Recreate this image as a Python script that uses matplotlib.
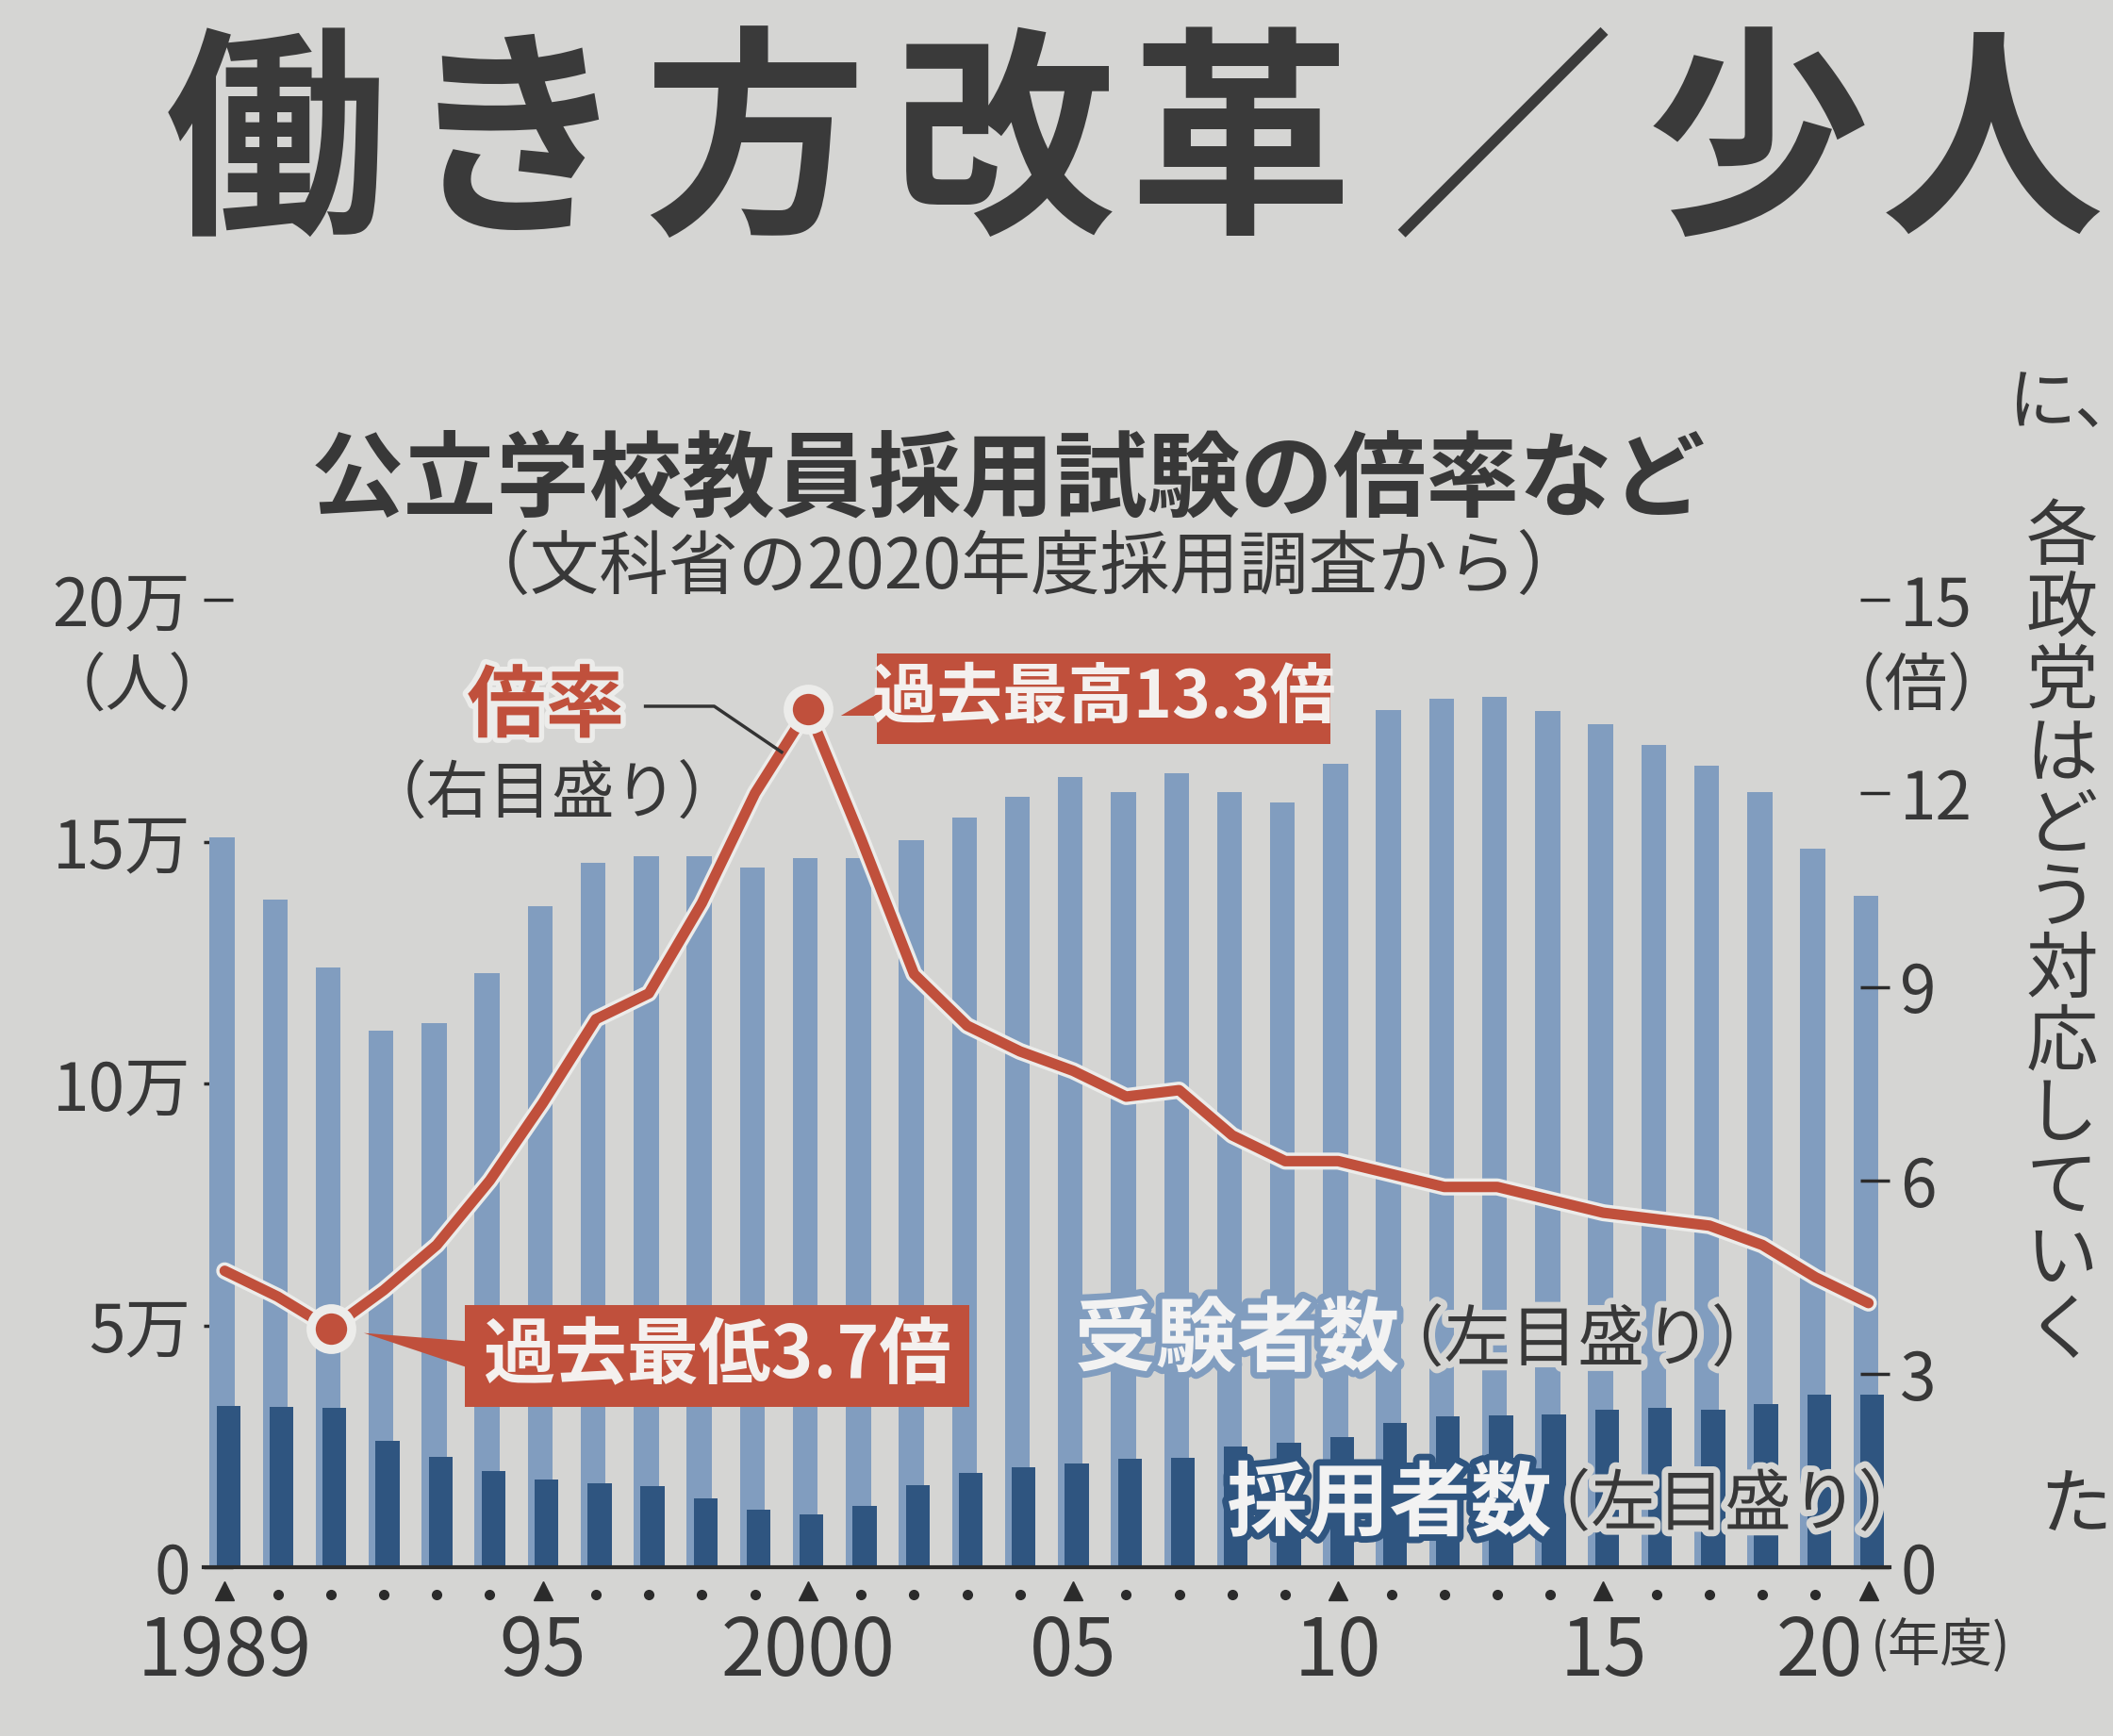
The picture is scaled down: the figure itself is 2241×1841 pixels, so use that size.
import numpy as np
import matplotlib
matplotlib.use("Agg")
import matplotlib.pyplot as plt
import matplotlib.patheffects as pe
from matplotlib.patches import Rectangle, Polygon
from matplotlib.lines import Line2D
from matplotlib import font_manager

plt.rcParams['font.family'] = ['Noto Sans CJK JP', 'DejaVu Sans']

# data (文科省 2020年度採用調査)
years = list(range(1989, 2021))
applicants = [151000, 138000, 124000, 111000, 112500, 122800, 136700, 145600,
              147000, 147000, 144700, 146700, 146700, 150300, 155000, 159200,
              163300, 160300, 164200, 160300, 158100, 166100, 177200, 179500,
              180000, 177000, 174200, 170000, 165800, 160300, 148600, 138900]
hires = [33500, 33300, 33000, 26200, 22800, 19900, 18300, 17400,
         16800, 14300, 11900, 11000, 12800, 17000, 19500, 20800,
         21500, 22400, 22700, 25100, 25900, 27000, 29800, 31300,
         31400, 31600, 32700, 33000, 32700, 33800, 35800, 35800]
ratio = [4.6, 4.2, 3.7, 4.3, 5.0, 6.0, 7.2, 8.5, 8.9, 10.3, 12.0, 13.3,
         11.3, 9.2, 8.4, 8.0, 7.7, 7.3, 7.4, 6.7, 6.3, 6.3, 6.1, 5.9,
         5.9, 5.7, 5.5, 5.4, 5.3, 5.0, 4.5, 4.1]

major_years = [1989, 1995, 2000, 2005, 2010, 2015, 2020]
year_labels = ['1989', '95', '2000', '05', '10', '15', '20']
left_ticks = [0, 50000, 100000, 150000, 200000]
left_labels = ['0', '5万', '10万', '15万', '20万']
right_ticks = [0, 3, 6, 9, 12, 15]
right_labels = ['0', '3', '6', '9', '12', '15']

PAPER = '#d5d5d3'
LIGHT = '#819dbf'
DARK = '#2f5580'
RED = '#c0503c'
TEXT = '#383838'
HALO = '#ececea'

names = {f.name for f in font_manager.fontManager.ttflist}
NARROW = 'Liberation Sans Narrow' if 'Liberation Sans Narrow' in names else 'Noto Sans CJK JP'


def fxy(x, y):
    # position measured on a 1568x1288 view of the page -> figure fraction
    return x / 1568, 1 - y / 1288


fig = plt.figure(figsize=(22.41, 18.41), dpi=100, facecolor=PAPER)

# headline of the article
for ch, x in zip('働き方改革／少人', [205, 383, 560, 745, 920, 1115, 1305, 1478]):
    fig.text(*fxy(x, 112), ch, fontsize=170, fontweight='bold', color='#3a3a3a',
             ha='center', va='center')

# vertical body text on the right
fig.text(*fxy(1515, 300), 'に', fontsize=52, color=TEXT, ha='center', va='center')
fig.text(*fxy(1540, 300), '､', fontsize=52, color=TEXT, ha='left', va='center')
for i, ch in enumerate('各政党はどう対応していく'):
    fig.text(*fxy(1530, 400 + i * 53.5), ch, fontsize=55, color=TEXT,
             ha='center', va='center')
fig.text(*fxy(1540, 1118), 'た', fontsize=55, color=TEXT, ha='center', va='center')

# chart title
fig.text(*fxy(748, 357), '公立学校教員採用試験の倍率など', fontsize=71,
         fontweight='bold', color=TEXT, ha='center', va='center')
fig.text(*fxy(760, 422), '（文科省の2020年度採用調査から）', fontsize=53,
         color=TEXT, ha='center', va='center')

ax = fig.add_axes([0.0963, 0.097, 0.798, 0.5575])
ax.set_facecolor('none')
ax2 = ax.twinx()

x = np.array(years)
ax.bar(x - 0.05, applicants, width=0.47, color=LIGHT, zorder=2)
ax.bar(x + 0.07, hires, width=0.45, color=DARK, zorder=3)

ax.set_xlim(1988.6, 2020.4)
ax.set_ylim(0, 200000)
ax2.set_ylim(0, 15)

for s in ['left', 'right', 'top']:
    ax.spines[s].set_visible(False)
    ax2.spines[s].set_visible(False)
ax2.spines['bottom'].set_visible(False)
ax.spines['bottom'].set_color('#2b2b2b')
ax.spines['bottom'].set_linewidth(3)
ax.spines['bottom'].set_zorder(4)

ax.set_yticks(left_ticks, left_labels)
ax.tick_params(axis='y', direction='in', length=22, width=2.5, color='#2b2b2b',
               labelsize=50, labelcolor=TEXT, pad=10)
ax2.set_yticks(right_ticks, right_labels)
ax2.tick_params(axis='y', direction='in', length=22, width=2.5, color='#2b2b2b',
                labelsize=50, labelcolor=TEXT, pad=8)
ax.set_xticks([])

# year markers below the baseline
xt = ax.get_xaxis_transform()
minor_years = [y for y in years if y not in major_years]
ax.plot(major_years, [-0.024] * len(major_years), '^', ms=15, color='#2b2b2b',
        transform=xt, clip_on=False)
ax.plot(minor_years, [-0.028] * len(minor_years), 'o', ms=7, color='#2b2b2b',
        transform=xt, clip_on=False)
for yr, lab in zip(major_years, year_labels):
    if lab == '20':
        ax.text(yr - 0.1, -0.088, lab, transform=xt, ha='right', va='center',
                fontsize=60, family=NARROW, color=TEXT)
    else:
        ax.text(yr, -0.088, lab, transform=xt, ha='center', va='center',
                fontsize=60, family=NARROW, color=TEXT)
fig.text(*fxy(1388, 1222), '(年度)', fontsize=40, color=TEXT, ha='left', va='center')

# unit labels
fig.text(*fxy(102, 510), '（人）', fontsize=48, color=TEXT, ha='center', va='center')
fig.text(*fxy(1422, 510), '（倍）', fontsize=48, color=TEXT, ha='center', va='center')

# ratio line
ax2.plot(years, ratio, color=RED, lw=8, solid_joinstyle='round',
         solid_capstyle='round', zorder=5,
         path_effects=[pe.Stroke(linewidth=13, foreground=HALO), pe.Normal()])
i_min = ratio.index(min(ratio))
i_max = ratio.index(max(ratio))
ax2.plot([years[i_min], years[i_max]], [ratio[i_min], ratio[i_max]], 'o', ms=31,
         mfc=RED, mec=HALO, mew=7, zorder=6)

# callout boxes
for (x0, y0, x1, y1), tip, base, txt, fs in [
        ((345, 968, 719, 1044), (270, 989), ((345, 995), (345, 1014)), '過去最低3.7倍', 55),
        ((651, 485, 987, 552), (624, 531), ((651, 515), (651, 531)), '過去最高13.3倍', 50)]:
    bx, by = fxy(x0, y1)
    bw = (x1 - x0) / 1568
    bh = (y1 - y0) / 1288
    fig.add_artist(Rectangle((bx, by), bw, bh, transform=fig.transFigure,
                             facecolor=RED, edgecolor='none', zorder=4))
    fig.add_artist(Polygon([fxy(*tip), fxy(*base[0]), fxy(*base[1])], closed=True,
                           transform=fig.transFigure, facecolor=RED,
                           edgecolor='none', zorder=4))
    fig.text(bx + bw / 2, by + bh / 2, txt, fontsize=fs, fontweight='bold',
             color='#f4f0ee', ha='center', va='center', zorder=5)

# 倍率 label and its leader line
fig.text(*fxy(405, 525), '倍率', fontsize=60, fontweight='bold', color=RED,
         ha='center', va='center',
         path_effects=[pe.Stroke(linewidth=8, foreground=HALO), pe.Normal()])
fig.text(*fxy(410, 590), '（右目盛り）', fontsize=48, color=TEXT, ha='center', va='center')
lx, ly = zip(fxy(479, 524), fxy(530, 524), fxy(580, 558))
fig.add_artist(Line2D(lx, ly, transform=fig.transFigure, color='#333333', lw=2.5))

# series labels
fig.text(*fxy(918, 995), '受験者数', fontsize=62, fontweight='bold', color='#f2f2f2',
         ha='center', va='center',
         path_effects=[pe.Stroke(linewidth=10, foreground=LIGHT), pe.Normal()])
fig.text(*fxy(1022, 995), '（左目盛り）', fontsize=51, color=TEXT, ha='left', va='center',
         path_effects=[pe.Stroke(linewidth=10, foreground=PAPER), pe.Normal()])
fig.text(*fxy(1031, 1117), '採用者数', fontsize=62, fontweight='bold', color='#f2f2f2',
         ha='center', va='center',
         path_effects=[pe.Stroke(linewidth=10, foreground=DARK), pe.Normal()])
fig.text(*fxy(1131, 1117), '（左目盛り）', fontsize=51, color=TEXT, ha='left', va='center',
         path_effects=[pe.Stroke(linewidth=10, foreground=PAPER), pe.Normal()])

fig.savefig('out.png', dpi=100, facecolor=PAPER)
